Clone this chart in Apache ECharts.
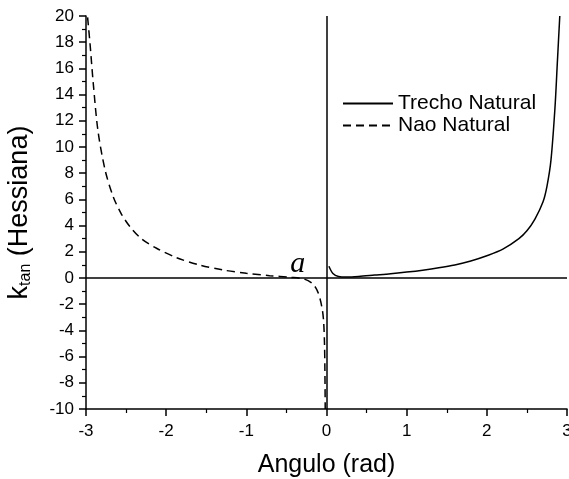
<!DOCTYPE html>
<html><head><meta charset="utf-8">
<script src="https://cdn.jsdelivr.net/npm/echarts@6/dist/echarts.min.js"></script>
<style>html,body{margin:0;padding:0;background:#fff}#c{width:569px;height:479px}</style>
</head><body><div id="c"></div>
<script>
// Nao Natural (dashed)
const naoX = [-2.98, -2.95, -2.91, -2.85, -2.76, -2.66, -2.56, -2.45, -2.31, -2.12, -1.87, -1.58, -1.29, -1.0, -0.71, -0.45, -0.28, -0.18, -0.12, -0.08, -0.05, -0.035, -0.025, -0.02, -0.016];
const naoY = [19.9, 17.9, 14.9, 11.2, 8.2, 6.2, 4.9, 3.9, 3.0, 2.27, 1.55, 0.99, 0.61, 0.36, 0.18, 0.05, -0.08, -0.4, -0.9, -1.6, -2.5, -3.4, -5.0, -7.0, -10];
// Trecho Natural (solid)
const treX = [0.03, 0.08, 0.15, 0.25, 0.4, 0.6, 0.8, 1.0, 1.2, 1.4, 1.6, 1.8, 2.0, 2.2, 2.4, 2.5, 2.6, 2.7, 2.75, 2.8, 2.85, 2.88, 2.91];
const treY = [0.9, 0.35, 0.12, 0.08, 0.12, 0.22, 0.32, 0.45, 0.6, 0.78, 1.0, 1.3, 1.7, 2.2, 3.0, 3.6, 4.5, 5.8, 7.0, 9.0, 13, 16.5, 20];
const seriesNames = ['Trecho Natural', 'Nao Natural'];
const xTicks = [-3, -2, -1, 0, 1, 2, 3];
const yTicks = [-10, -8, -6, -4, -2, 0, 2, 4, 6, 8, 10, 12, 14, 16, 18, 20];
const annotText = 'a';
const annotAt = [-0.36, 1.05];

const F = 'Liberation Sans, Arial, sans-serif';
const zip = (a, b) => a.map((v, i) => [v, b[i]]);
const chart = echarts.init(document.getElementById('c'), null, {renderer: 'canvas'});
const axisCommon = {
  axisLine: {onZero: false, lineStyle: {color: '#000', width: 1.5}},
  axisTick: {inside: false, length: 7, lineStyle: {color: '#000', width: 1.5}},
  minorTick: {show: true, splitNumber: 2, length: 4, lineStyle: {color: '#000', width: 1.2}},
  splitLine: {show: false},
  minorSplitLine: {show: false}
};
chart.setOption({
  animation: false,
  backgroundColor: '#fff',
  grid: {left: 86, right: 2, top: 16, bottom: 70, containLabel: false, outerBoundsMode: 'none'},
  legend: {
    data: seriesNames, orient: 'vertical', left: 342, top: 93, padding: 0,
    itemWidth: 50, itemHeight: 14, itemGap: 1,
    itemStyle: {opacity: 0},
    textStyle: {fontFamily: F, fontSize: 21, color: '#000', padding: [0, 0, 0, 0]},
    inactiveColor: '#000'
  },
  xAxis: Object.assign({
    type: 'value', min: xTicks[0], max: xTicks[xTicks.length - 1], interval: 1,
    name: 'Angulo (rad)', nameLocation: 'middle', nameGap: 44,
    nameTextStyle: {fontFamily: F, fontSize: 25, color: '#000'},
    axisLabel: {fontFamily: F, fontSize: 17, color: '#000', margin: 14}
  }, axisCommon),
  yAxis: Object.assign({
    type: 'value', min: yTicks[0], max: yTicks[yTicks.length - 1], interval: 2,
    name: '{k|k}{s|tan}{k| (Hessiana)}', nameLocation: 'middle', nameGap: 52,
    nameTextStyle: {
      fontFamily: F, fontSize: 27, color: '#000',
      rich: {
        k: {fontFamily: F, fontSize: 27, color: '#000'},
        s: {fontFamily: F, fontSize: 16, color: '#000', verticalAlign: 'bottom', padding: [12, 0, 0, 0]}
      }
    },
    axisLabel: {fontFamily: F, fontSize: 17, color: '#000', margin: 12}
  }, axisCommon),
  series: [
    {
      name: seriesNames[0], type: 'line', data: zip(treX, treY), smooth: 0.3,
      symbol: 'none', showSymbol: false, clip: true,
      lineStyle: {color: '#000', width: 1.5, type: 'solid'}, itemStyle: {color: '#000'},
      markLine: {
        silent: true, symbol: 'none', label: {show: false},
        lineStyle: {color: '#000', width: 1.5, type: 'solid'},
        data: [{xAxis: 0}, {yAxis: 0}]
      }
    },
    {
      name: seriesNames[1], type: 'line', data: zip(naoX, naoY), smooth: 0.3,
      symbol: 'none', showSymbol: false, clip: true,
      lineStyle: {color: '#000', width: 1.5, type: [8, 5]}, itemStyle: {color: '#000'},
      markPoint: {
        silent: true, symbol: 'circle', symbolSize: 0,
        data: [{coord: annotAt, value: annotText}],
        label: {show: true, formatter: annotText, position: 'inside', fontFamily: 'Liberation Serif, Times New Roman, serif', fontStyle: 'italic', fontSize: 30, color: '#000'}
      }
    }
  ]
});
</script></body></html>
